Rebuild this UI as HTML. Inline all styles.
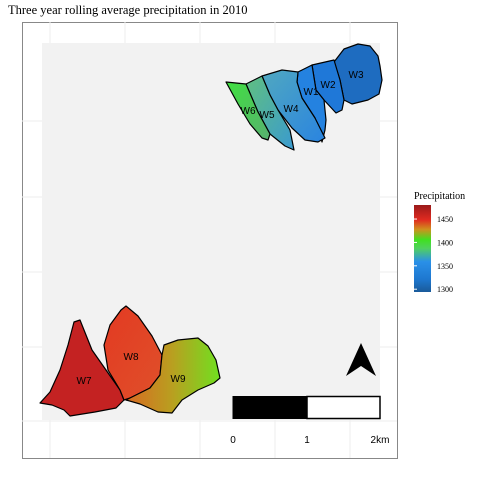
<!DOCTYPE html>
<html><head><meta charset="utf-8"><style>
body{margin:0;background:#fff;}
svg{display:block;font-family:"Liberation Sans",sans-serif;}
.serif{font-family:"Liberation Serif",serif;}
</style></head><body>
<svg width="480" height="480" viewBox="0 0 480 480">
<defs>
<linearGradient id="cb" x1="0" y1="1" x2="0" y2="0">
<stop offset="0" stop-color="#1a5a9a"/><stop offset="0.15" stop-color="#1e78d0"/><stop offset="0.35" stop-color="#2a90e8"/><stop offset="0.5" stop-color="#50d060"/><stop offset="0.6" stop-color="#40e020"/><stop offset="0.72" stop-color="#d0901e"/><stop offset="0.83" stop-color="#e02a20"/><stop offset="1" stop-color="#9a1a1a"/>
</linearGradient>
<linearGradient id="g9" x1="0" y1="0" x2="1" y2="0"><stop offset="0" stop-color="#d86a22"/><stop offset="0.5" stop-color="#b8a020"/><stop offset="1" stop-color="#70e020"/></linearGradient>
<linearGradient id="g8" x1="0" y1="0" x2="1" y2="1"><stop offset="0" stop-color="#e23a22"/><stop offset="1" stop-color="#e0502a"/></linearGradient>
<linearGradient id="g6" x1="0" y1="0" x2="1" y2="1"><stop offset="0" stop-color="#40e040"/><stop offset="1" stop-color="#58b070"/></linearGradient>
<linearGradient id="g5" x1="0" y1="0" x2="1" y2="1"><stop offset="0" stop-color="#60c080"/><stop offset="1" stop-color="#3a9ad0"/></linearGradient>
<linearGradient id="g4" x1="0" y1="0" x2="1" y2="1"><stop offset="0" stop-color="#50a8c0"/><stop offset="1" stop-color="#2a84e0"/></linearGradient>
</defs>
<text x="8" y="14" font-size="12.5" class="serif">Three year rolling average precipitation in 2010</text>
<rect x="22.5" y="22.5" width="375" height="436" fill="#fff" stroke="#888"/>
<g stroke="#eee" stroke-width="1">
<line x1="22" y1="121" x2="397" y2="121"/><line x1="22" y1="197" x2="397" y2="197"/><line x1="22" y1="272" x2="397" y2="272"/><line x1="22" y1="347" x2="397" y2="347"/><line x1="22" y1="421" x2="397" y2="421"/>
<line x1="50" y1="22" x2="50" y2="458"/><line x1="125" y1="22" x2="125" y2="458"/><line x1="200" y1="22" x2="200" y2="458"/><line x1="275" y1="22" x2="275" y2="458"/><line x1="350" y1="22" x2="350" y2="458"/>
</g>
<rect x="42" y="43" width="338" height="377" fill="#f2f2f2"/>
<g stroke="#000" stroke-width="1.2" stroke-linejoin="round">
<path d="M344,49 L358,44 L370,46 L378,56 L380,66 L382,80 L379,94 L368,100 L352,104 L344,100 L340,80 L334,62 Z" fill="#1e6cc0"/>
<path d="M312,65 L334,60 L340,80 L344,100 L342,110 L336,113 L324,100 L316,90 Z" fill="#1f78d8"/>
<path d="M298,72 L312,65 L316,90 L324,100 L326,120 L325,130 L322,142 L315,118 L302,98 L297,82 Z" fill="#2482e0"/>
<path d="M262,76 L282,70 L298,72 L297,82 L302,98 L315,118 L325,138 L318,142 L305,140 L292,128 L278,110 L270,95 Z" fill="url(#g4)"/>
<path d="M246,84 L262,76 L270,95 L278,110 L290,130 L294,150 L285,146 L270,134 L258,112 Z" fill="url(#g5)"/>
<path d="M226,82 L246,84 L258,112 L270,134 L268,140 L262,138 L250,124 L238,104 Z" fill="url(#g6)"/>
<path d="M74,322 L80,320 L92,350 L106,370 L120,390 L124,400 L116,408 L95,412 L70,416 L64,410 L52,405 L40,403 L50,392 L60,370 L68,345 Z" fill="#c42222"/>
<path d="M121,310 L126,306 L138,316 L152,336 L162,355 L160,375 L150,388 L130,398 L124,400 L120,390 L108,370 L104,345 L110,325 Z" fill="url(#g8)"/>
<path d="M164,345 L178,340 L198,338 L208,346 L216,360 L220,378 L214,383 L198,390 L182,400 L172,413 L158,412 L140,404 L126,400 L150,388 L160,375 L162,355 Z" fill="url(#g9)"/>
</g>
<g font-size="10">
<text x="356" y="78" text-anchor="middle">W3</text><text x="328" y="88" text-anchor="middle">W2</text><text x="311" y="95" text-anchor="middle">W1</text><text x="291" y="112" text-anchor="middle">W4</text><text x="267" y="118" text-anchor="middle">W5</text><text x="248" y="114" text-anchor="middle">W6</text>
<text x="84" y="384" text-anchor="middle">W7</text><text x="131" y="360" text-anchor="middle">W8</text><text x="178" y="382" text-anchor="middle">W9</text>
</g>
<g><path d="M361,343 L376,376 L361,366 L346,376 Z" fill="#000"/></g>
<g>
<rect x="233" y="396.5" width="74" height="22" fill="#000" stroke="#000"/>
<rect x="307" y="396.5" width="73" height="22" fill="#fff" stroke="#000" stroke-width="1.5"/>
<g font-size="10" text-anchor="middle"><text x="233" y="443">0</text><text x="307" y="443">1</text><text x="380" y="443">2km</text></g>
</g>
<g>
<text x="414" y="199" font-size="10" class="serif">Precipitation</text>
<rect x="414" y="205" width="17" height="87" fill="url(#cb)"/>
<g id="ticks"></g>
</g>
</svg>
<script>
const tickValues=[1300,1350,1400,1450];
const tickLabels=["1300","1350","1400","1450"];
const vmin=1294,vmax=1480;
function ys(v){return 292-(v-vmin)/(vmax-vmin)*87;}
const g=document.getElementById('ticks');
tickValues.forEach((v,i)=>{
 const y=ys(v);
 const l=document.createElementNS('http://www.w3.org/2000/svg','line');
 l.setAttribute('x1',414);l.setAttribute('x2',417);l.setAttribute('y1',y);l.setAttribute('y2',y);l.setAttribute('stroke','#fff');
 
 
 g.appendChild(l);
 const t=document.createElementNS('http://www.w3.org/2000/svg','text');
 t.setAttribute('x',437);t.setAttribute('y',y+3);t.setAttribute('font-size','8');t.setAttribute('class','serif');
 t.textContent=tickLabels[i];
 
 
 g.appendChild(t);
});
</script>
</body></html>
